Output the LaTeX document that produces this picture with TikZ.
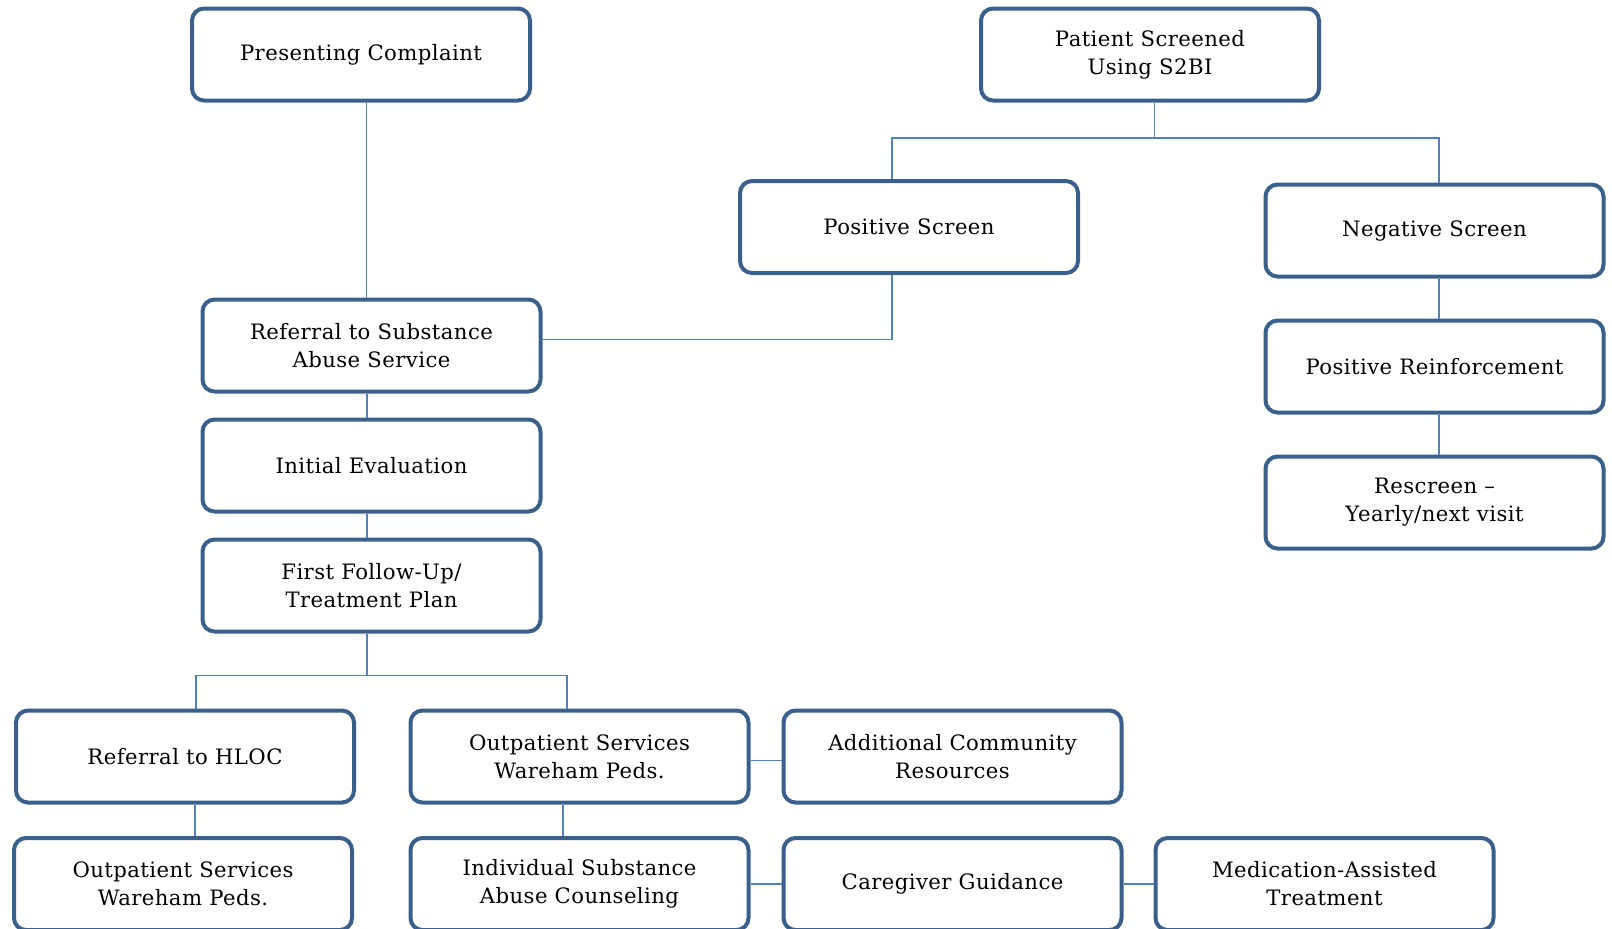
\documentclass[tikz,border=0pt]{standalone}
\usepackage{fontspec}
\setmainfont{DejaVu Serif}[LetterSpace=2]
\usepackage{tikz}
\usetikzlibrary{positioning}
\definecolor{boxblue}{HTML}{3A5F8B}
\definecolor{lineblue}{HTML}{4F81BD}

\begin{document}
\begin{tikzpicture}[x=1pt, y=1pt,
    box/.style={draw=boxblue, line width=2pt, rounded corners=6pt, fill=white,
        minimum width=169pt, minimum height=46pt, align=center,
        font=\fontsize{10.6}{14}\selectfont},
    link/.style={draw=lineblue, line width=0.8pt}]

\useasboundingbox (0,0) rectangle (806,-464);

% Top row
\node[box] (pc) at (180.5,-27.25) {Presenting Complaint};
\node[box] (ps) at (575,-27.25) {Patient Screened\\Using S2BI};

% Screen results
\node[box] (pos) at (454.5,-113.5) {Positive Screen};
\node[box] (neg) at (717.25,-115.25) {Negative Screen};
\node[box, below=20pt of neg] (reinf) {Positive Reinforcement};
\node[box, below=20pt of reinf] (resc) {Rescreen --\\Yearly/next visit};

% Substance abuse service chain
\node[box] (ref) at (185.75,-172.75) {Referral to Substance\\Abuse Service};
\node[box, below=12pt of ref] (init) {Initial Evaluation};
\node[box, below=12pt of init] (first) {First Follow-Up/\\Treatment Plan};

% Treatment options
\node[box] (hloc) at (92.5,-378.25) {Referral to HLOC};
\node[box] (outm) at (289.75,-378.25) {Outpatient Services\\Wareham Peds.};
\node[box] (addc) at (476.25,-378.25) {Additional Community\\Resources};
\node[box] (outb) at (91.5,-442) {Outpatient Services\\Wareham Peds.};
\node[box] (indiv) at (289.75,-442) {Individual Substance\\Abuse Counseling};
\node[box] (care) at (476.25,-442) {Caregiver Guidance};
\node[box] (med) at (662.25,-442) {Medication-Assisted\\Treatment};

% Connections
\draw[link] ([xshift=2.8pt]pc.south) -- ([xshift=2.8pt]pc.south |- ref.north);
\coordinate (psj) at ([xshift=2.3pt]ps.south |- 0,-68.9);
\draw[link] ([xshift=2.3pt]ps.south) -- (psj);
\draw[link] ([xshift=-8.5pt]pos.north) |- (psj) -| ([xshift=2.3pt]neg.north);
\draw[link] ([xshift=-8.5pt]pos.south) |- ([yshift=3pt]ref.east);
\foreach \a/\b in {neg/reinf, reinf/resc}
    \draw[link] ([xshift=2.3pt]\a.south) -- ([xshift=2.3pt]\b.north);
\foreach \a/\b in {ref/init, init/first}
    \draw[link] ([xshift=-2.3pt]\a.south) -- ([xshift=-2.3pt]\b.north);
\coordinate (fj) at ([xshift=-2.3pt]first.south |- 0,-337.7);
\draw[link] ([xshift=-2.3pt]first.south) -- (fj);
\draw[link] ([xshift=5.6pt]hloc.north) |- (fj) -| ([xshift=-6.2pt]outm.north);
\draw[link] ([xshift=5pt]hloc.south) -- ([xshift=5pt]hloc.south |- outb.north);
\draw[link] ([xshift=-8.2pt]outm.south) -- ([xshift=-8.2pt]outm.south |- indiv.north);
\draw[link] ([yshift=-2pt]outm.east) -- ([yshift=-2pt]addc.west);
\draw[link] (indiv.east) -- (care.west);
\draw[link] (care.east) -- (med.west);
\end{tikzpicture}
\end{document}
